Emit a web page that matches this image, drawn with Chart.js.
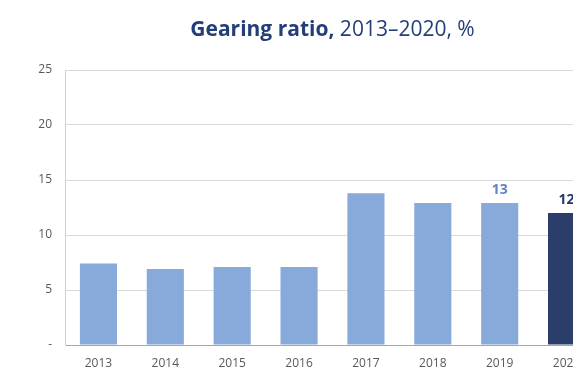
<!DOCTYPE html>
<html>
<head>
<meta charset="utf-8">
<script src="https://cdn.jsdelivr.net/npm/chart.js@4"></script>
<style>
html,body{margin:0;padding:0;background:#fff;overflow:hidden;}
#wrap{position:relative;width:640px;height:370px;}
</style>
</head>
<body>
<div id="wrap"><canvas id="c" width="640" height="370"></canvas></div>
<script>
const years = ['2013','2014','2015','2016','2017','2018','2019','2020'];
const gearing = [7.4, 6.9, 7.1, 7.1, 13.8, 12.9, 12.9, 12.0];
const valueLabels = [null, null, null, null, null, null, '13', '12'];
const yTicks = [0, 5, 10, 15, 20, 25];
const titleBold = 'Gearing ratio,';
const titleRest = ' 2013–2020, %';

const light = '#87aadb';
const dark = '#2b3e6a';
const barColors = years.map((y, i) => i === years.length - 1 ? dark : light);
const labelColors = years.map((y, i) => i === years.length - 1 ? '#25396a' : '#6282c4');

const titlePlugin = {
  id: 'customTitle',
  afterDraw(chart) {
    const ctx = chart.ctx;
    const area = chart.chartArea;
    ctx.save();
    ctx.textBaseline = 'alphabetic';
    ctx.fillStyle = '#233e78';
    ctx.font = 'bold 21px "Open Sans"';
    const w1 = ctx.measureText(titleBold).width;
    ctx.font = '21px "Open Sans"';
    const w2 = ctx.measureText(titleRest).width;
    const cx = (area.left + area.right) / 2;
    let x = cx - (w1 + w2) / 2;
    ctx.textAlign = 'left';
    ctx.font = 'bold 21px "Open Sans"';
    ctx.fillText(titleBold, x, 36);
    ctx.font = '21px "Open Sans"';
    ctx.fillText(titleRest, x + w1, 36);
    ctx.restore();
  }
};

const valueLabelPlugin = {
  id: 'valueLabels',
  afterDatasetsDraw(chart) {
    const ctx = chart.ctx;
    const meta = chart.getDatasetMeta(0);
    ctx.save();
    ctx.font = 'bold 14px "Open Sans"';
    ctx.textAlign = 'center';
    ctx.textBaseline = 'alphabetic';
    meta.data.forEach((bar, i) => {
      if (!valueLabels[i]) return;
      ctx.fillStyle = labelColors[i];
      ctx.fillText(valueLabels[i], bar.x, bar.y - 9);
    });
    ctx.restore();
  }
};

new Chart(document.getElementById('c'), {
  type: 'bar',
  data: {
    labels: years,
    datasets: [{
      data: gearing,
      backgroundColor: barColors,
      borderWidth: 0,
      barPercentage: 0.555,
      categoryPercentage: 1.0
    }]
  },
  options: {
    responsive: false,
    animation: false,
    devicePixelRatio: 1,
    layout: { padding: { top: 70, right: 40, left: 0, bottom: 0 } },
    plugins: { legend: { display: false }, title: { display: false }, tooltip: { enabled: false } },
    scales: {
      x: {
        grid: { display: false, drawTicks: false },
        border: { display: true, color: '#a6a6a6', width: 1 },
        ticks: { color: '#595959', font: { family: '"Open Sans"', size: 12 }, padding: 11, maxRotation: 0 },
        afterFit(scale) { scale.height = 25; }
      },
      y: {
        min: 0, max: 25,
        afterBuildTicks(scale) { scale.ticks = yTicks.map(v => ({ value: v })); },
        grid: { color: '#d9d9d9', drawTicks: false, lineWidth: 1 },
        border: { display: true, color: '#d0d0d0', width: 1 },
        ticks: {
          color: '#595959',
          font: { family: '"Open Sans"', size: 12 },
          padding: 13,
          callback: (v) => v === 0 ? '-' : String(v)
        },
        afterFit(scale) { scale.width = 65; }
      }
    }
  },
  plugins: [titlePlugin, valueLabelPlugin]
});
</script>
</body>
</html>
